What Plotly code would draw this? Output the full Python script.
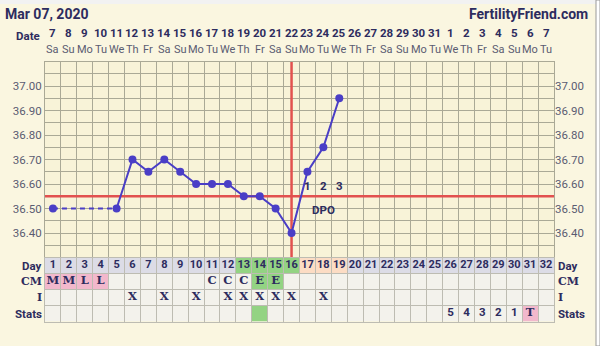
import plotly.graph_objects as go

# ---------------- data ----------------
cycle_days = list(range(1, 33))
date_nums = [7, 8, 9, 10, 11, 12, 13, 14, 15, 16, 17, 18, 19, 20, 21, 22, 23, 24, 25,
             26, 27, 28, 29, 30, 31, 1, 2, 3, 4, 5, 6, 7]
weekdays = ["Sa", "Su", "Mo", "Tu", "We", "Th", "Fr"] * 4 + ["Sa", "Su", "Mo", "Tu"]
temps = [36.50, None, None, None, 36.50, 36.70, 36.65, 36.70, 36.65, 36.60, 36.60, 36.60,
         36.55, 36.55, 36.50, 36.40, 36.65, 36.75, 36.95] + [None] * 13
coverline = 36.55
ovulation_day = 16
dpo_days = [17, 18, 19]
dpo_labels = ["1", "2", "3"]
temp_ticks = [36.40, 36.50, 36.60, 36.70, 36.80, 36.90, 37.00]
temp_range = [36.30, 37.10]
cm_codes = {1: "M", 2: "M", 3: "L", 4: "L", 11: "C", 12: "C", 13: "C", 14: "E", 15: "E"}
intercourse_days = [6, 8, 10, 12, 13, 14, 15, 16, 18]
stats_codes = {26: "5", 27: "4", 28: "3", 29: "2", 30: "1", 31: "T"}
day_class = {d: "fertile" for d in [13, 14, 15, 16]}
day_class.update({d: "luteal" for d in [17, 18, 19]})
cm_class = {1: "period", 2: "period", 3: "period", 4: "period", 14: "fertile", 15: "fertile"}
stats_class = {14: "fertile", 31: "period"}
row_names = ["Day", "CM", "I", "Stats"]
title_text = "Mar 07, 2020"
brand_text = "FertilityFriend.com"

# ---------------- style ----------------
W, H = 600, 346
CREAM = "#faf6e0"
PLOT_BG = "#f8f3d8"
GRID = "#aaa996"
CELL_BG = "#f3f2ec"
CELL_GRID = "#bdbcb2"
NAVY = "#2d2c5e"
TICK = "#5a5c72"
LINE = "#4a3ec6"
RED = "#e2514f"
class_color = {"fertile": "#93d383", "luteal": "#fcdcc4", "period": "#f2b8cc", "day": "#dcdce6"}

def py(p):
    return 1 - p / H

def px(p):
    return p / W

x_l, x_r = 45, 554
t_top, t_bot = 61.5, 257.5
tab_bot = 321.5

fig = go.Figure()

# coverline and ovulation line (drawn first so data sits above)
fig.add_trace(go.Scatter(x=[0.5, 32.5], y=[coverline, coverline], mode="lines",
                         line=dict(color=RED, width=2.5), xaxis="x", yaxis="y", hoverinfo="skip"))
fig.add_trace(go.Scatter(x=[ovulation_day, ovulation_day], y=temp_range, mode="lines",
                         line=dict(color=RED, width=2.5), xaxis="x", yaxis="y", hoverinfo="skip"))

# dashed segments across gaps
recorded = [(d, t) for d, t in zip(cycle_days, temps) if t is not None]
for (d0, t0), (d1, t1) in zip(recorded[:-1], recorded[1:]):
    if d1 - d0 > 1:
        fig.add_trace(go.Scatter(x=[d0, d1], y=[t0, t1], mode="lines",
                                 line=dict(color=LINE, width=2, dash="5px,4px"),
                                 xaxis="x", yaxis="y", hoverinfo="skip"))
# temperature line (solid where consecutive)
fig.add_trace(go.Scatter(x=cycle_days, y=temps, mode="lines+markers",
                         line=dict(color=LINE, width=2),
                         marker=dict(color=LINE, size=8),
                         connectgaps=False, xaxis="x", yaxis="y", hoverinfo="skip"))

# right-side temperature axis trace (invisible, for labels)
fig.add_trace(go.Scatter(x=[1], y=[36.5], mode="markers", marker=dict(opacity=0),
                         xaxis="x", yaxis="y3", hoverinfo="skip"))

shapes = []
# table base
shapes.append(dict(type="rect", xref="x2", yref="y2", x0=0.5, x1=32.5, y0=0, y1=4,
                   fillcolor=CELL_BG, line=dict(width=0), layer="below"))
for d in cycle_days:
    c = class_color[day_class.get(d, "day")]
    shapes.append(dict(type="rect", xref="x2", yref="y2", x0=d - 0.5, x1=d + 0.5, y0=0, y1=1,
                       fillcolor=c, line=dict(width=0), layer="below"))
for row, cls in [(1, cm_class), (3, stats_class)]:
    for d, k in cls.items():
        shapes.append(dict(type="rect", xref="x2", yref="y2", x0=d - 0.5, x1=d + 0.5,
                           y0=row, y1=row + 1, fillcolor=class_color[k],
                           line=dict(width=0), layer="below"))
# top strip and right border
shapes.append(dict(type="rect", xref="paper", yref="paper", x0=0, x1=1, y0=py(4), y1=1,
                   fillcolor="#f2f2f2", line=dict(width=0), layer="below"))
shapes.append(dict(type="rect", xref="paper", yref="paper", x0=px(596), x1=1, y0=0, y1=1,
                   fillcolor="#ffffff", line=dict(color="#9a9a9a", width=1), layer="below"))

# table text
day_font = dict(family="Roboto", size=11, color=NAVY)
serif_font = dict(family="DejaVu Serif", size=11.5, color=NAVY)
fig.add_trace(go.Scatter(x=cycle_days, y=[0.5] * 32, mode="text",
                         text=[f"<b>{d}</b>" for d in cycle_days], textfont=day_font,
                         xaxis="x2", yaxis="y2", hoverinfo="skip"))
fig.add_trace(go.Scatter(x=list(cm_codes.keys()), y=[1.5] * len(cm_codes), mode="text",
                         text=[f"<b>{v}</b>" for v in cm_codes.values()], textfont=serif_font,
                         xaxis="x2", yaxis="y2", hoverinfo="skip"))
fig.add_trace(go.Scatter(x=intercourse_days, y=[2.5] * len(intercourse_days), mode="text",
                         text=["<b>X</b>"] * len(intercourse_days), textfont=serif_font,
                         xaxis="x2", yaxis="y2", hoverinfo="skip"))
stats_txt = [f"<b>{v}</b>" for v in stats_codes.values()]
stats_fonts = ["DejaVu Serif" if v == "T" else "Roboto" for v in stats_codes.values()]
fig.add_trace(go.Scatter(x=list(stats_codes.keys()), y=[3.5] * len(stats_codes), mode="text",
                         text=stats_txt, textfont=dict(family=stats_fonts, size=11.5, color=NAVY),
                         xaxis="x2", yaxis="y2", hoverinfo="skip"))

annotations = []
# row labels left & right
row_fonts = ["Roboto", "DejaVu Serif", "DejaVu Serif", "Roboto"]
for i, (name, fam) in enumerate(zip(row_names, row_fonts)):
    yc = py(t_bot + 16 * i + 8)
    fs = 11.5 if fam == "Roboto" else 11
    annotations.append(dict(xref="paper", yref="paper", x=px(44), y=yc, xanchor="right",
                            yanchor="middle", text=f"<b>{name}</b>", showarrow=False,
                            font=dict(family=fam, size=fs, color=NAVY)))
    annotations.append(dict(xref="paper", yref="paper", x=px(556), y=yc, xanchor="left",
                            yanchor="middle", text=f"<b>{name}</b>", showarrow=False,
                            font=dict(family=fam, size=fs, color=NAVY)))
# date header
for d, n, wd in zip(cycle_days, date_nums, weekdays):
    annotations.append(dict(xref="x", yref="paper", x=d, y=py(33), text=f"<b>{n}</b>",
                            showarrow=False, yanchor="middle",
                            font=dict(family="Roboto", size=11.5, color=NAVY)))
    annotations.append(dict(xref="x", yref="paper", x=d, y=py(50), text=wd,
                            showarrow=False, yanchor="middle",
                            font=dict(family="Roboto", size=11, color=TICK)))
annotations.append(dict(xref="paper", yref="paper", x=px(42), y=py(36), xanchor="right",
                        yanchor="middle", text="<b>Date</b>", showarrow=False,
                        font=dict(family="Roboto", size=11.5, color=NAVY)))
annotations.append(dict(xref="paper", yref="paper", x=px(3), y=py(14), xanchor="left",
                        yanchor="middle", text=f"<b>{title_text}</b>", showarrow=False,
                        font=dict(family="Roboto", size=14, color=NAVY)))
annotations.append(dict(xref="paper", yref="paper", x=px(590), y=py(14), xanchor="right",
                        yanchor="middle", text=f"<b>{brand_text}</b>", showarrow=False,
                        font=dict(family="Roboto", size=14, color=NAVY)))
# DPO labels
for d, lab in zip(dpo_days, dpo_labels):
    annotations.append(dict(xref="x", yref="y", x=d, y=36.593, text=f"<b>{lab}</b>",
                            showarrow=False, font=dict(family="Roboto", size=11.5, color=NAVY)))
annotations.append(dict(xref="x", yref="y", x=dpo_days[1], y=36.495, text="<b>DPO</b>",
                        showarrow=False, font=dict(family="Roboto", size=11.5, color=NAVY)))

xdom = [px(x_l), px(x_r)]
fig.update_layout(
    width=W, height=H, margin=dict(l=0, r=0, t=0, b=0),
    paper_bgcolor=CREAM, plot_bgcolor=PLOT_BG, showlegend=False,
    shapes=shapes, annotations=annotations,
    xaxis=dict(domain=xdom, range=[0.5, 32.5], anchor="y", tick0=0.5, dtick=1,
               showticklabels=False, showgrid=True, gridcolor=GRID, gridwidth=1,
               showline=True, mirror=True, linecolor=GRID, zeroline=False, fixedrange=True),
    yaxis=dict(domain=[py(t_bot), py(t_top)], range=temp_range, anchor="x",
               tickvals=temp_ticks, tickformat=".2f", ticks="",
               tickfont=dict(family="Roboto", size=11.5, color=TICK),
               showgrid=True, gridcolor=GRID, gridwidth=1,
               minor=dict(dtick=0.05, tick0=36.30, showgrid=True, gridcolor=GRID, gridwidth=1),
               showline=True, mirror=True, linecolor=GRID, zeroline=False),
    yaxis3=dict(overlaying="y", side="right", range=temp_range, anchor="x",
                tickvals=temp_ticks, tickformat=".2f", ticks="",
                tickfont=dict(family="Roboto", size=11.5, color=TICK),
                showgrid=False, zeroline=False, showline=False),
    xaxis2=dict(domain=xdom, range=[0.5, 32.5], anchor="y2", tick0=0.5, dtick=1,
                showticklabels=False, showgrid=True, gridcolor=CELL_GRID,
                showline=True, mirror=True, linecolor=CELL_GRID, zeroline=False),
    yaxis2=dict(domain=[py(tab_bot), py(t_bot)], range=[4, 0], anchor="x2",
                tickvals=[0, 1, 2, 3, 4], showticklabels=False, showgrid=True,
                gridcolor=CELL_GRID, showline=True, mirror=True, linecolor=CELL_GRID,
                zeroline=False),
)

fig.write_html("out.html")
